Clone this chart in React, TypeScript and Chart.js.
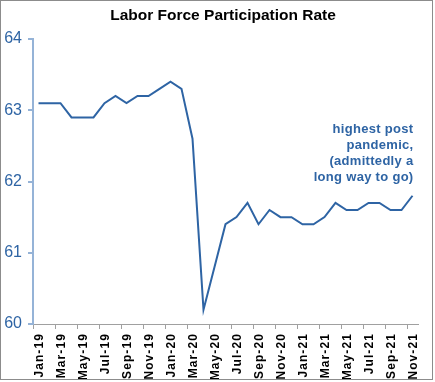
import React, { useEffect, useRef } from "react";
import { Chart, registerables } from "chart.js";

Chart.register(...registerables);

const months = [
  "Jan-19","Feb-19","Mar-19","Apr-19","May-19","Jun-19","Jul-19","Aug-19","Sep-19","Oct-19","Nov-19","Dec-19",
  "Jan-20","Feb-20","Mar-20","Apr-20","May-20","Jun-20","Jul-20","Aug-20","Sep-20","Oct-20","Nov-20","Dec-20",
  "Jan-21","Feb-21","Mar-21","Apr-21","May-21","Jun-21","Jul-21","Aug-21","Sep-21","Oct-21","Nov-21",
];
const participation = [
  63.1, 63.1, 63.1, 62.9, 62.9, 62.9, 63.1, 63.2, 63.1, 63.2, 63.2, 63.3,
  63.4, 63.3, 62.6, 60.2, 60.8, 61.4, 61.5, 61.7, 61.4, 61.6, 61.5, 61.5,
  61.4, 61.4, 61.5, 61.7, 61.6, 61.6, 61.7, 61.7, 61.6, 61.6, 61.8,
];
const annotationLines = ["highest post", "pandemic,", "(admittedly a", "long way to go)"];
const titleText = "Labor Force Participation Rate";

const BLUE = "#2E64A4";
const FONT = "'Liberation Sans', Arial, sans-serif";

const extras = {
  id: "extras",
  afterDraw(chart: any) {
    const ctx = chart.ctx;
    const xs = chart.scales.x;
    const ys = chart.scales.y;
    ctx.save();
    // title
    ctx.fillStyle = "#000";
    ctx.font = `bold 15.5px ${FONT}`;
    ctx.textAlign = "center";
    ctx.textBaseline = "middle";
    ctx.fillText(titleText, 223, 16);
    // x labels (every second month), rotated, letter-spaced
    ctx.font = `bold 12px ${FONT}`;
    (ctx as any).letterSpacing = "1.1px";
    ctx.textAlign = "right";
    ctx.textBaseline = "middle";
    months.forEach((m, i) => {
      if (i % 2 !== 0) return;
      const x = xs.getPixelForValue(i) + 1;
      ctx.save();
      ctx.translate(x, xs.top + 9);
      ctx.rotate(-Math.PI / 2);
      ctx.fillText(m, 0, 0);
      ctx.restore();
    });
    // annotation
    (ctx as any).letterSpacing = "0.3px";
    ctx.fillStyle = BLUE;
    ctx.font = `bold 13px ${FONT}`;
    ctx.textAlign = "right";
    ctx.textBaseline = "middle";
    const ax = xs.getPixelForValue(participation.length - 1) + 1;
    const ay = ys.getPixelForValue(62.73);
    annotationLines.forEach((t, i) => ctx.fillText(t, ax, ay + i * 16));
    // outer border
    (ctx as any).letterSpacing = "0px";
    ctx.strokeStyle = "#8c8c8c";
    ctx.lineWidth = 1;
    ctx.strokeRect(0.5, 0.5, 432, 379);
    ctx.restore();
  },
};

export default function App() {
  const ref = useRef<HTMLCanvasElement>(null);
  useEffect(() => {
    document.body.style.margin = "0";
    const chart = new Chart(ref.current!, {
      type: "line",
      data: {
        labels: months,
        datasets: [
          {
            data: participation,
            borderColor: BLUE,
            borderWidth: 2,
            pointRadius: 0,
            tension: 0,
            fill: false,
          },
        ],
      },
      options: {
        animation: false,
        responsive: false,
        maintainAspectRatio: false,
        layout: { padding: { left: 0, right: 17, top: 39, bottom: 2 } },
        plugins: {
          legend: { display: false },
          tooltip: { enabled: false },
          title: { display: false },
        },
        scales: {
          x: {
            offset: true,
            grid: {
              display: true,
              drawOnChartArea: false,
              drawTicks: true,
              tickLength: 5,
              offset: true,
              color: (c: any) => (c.index % 2 === 0 ? "#a0a0a0" : "rgba(0,0,0,0)"),
            },
            border: { display: true, color: "#a0a0a0", width: 1 },
            ticks: {
              display: false,
              autoSkip: false,
            },
            afterFit: (s: any) => {
              s.height = 56;
            },
          },
          y: {
            min: 60,
            max: 64,
            grid: {
              display: true,
              drawOnChartArea: false,
              drawTicks: true,
              tickLength: 5,
              color: "#95B3D7",
              lineWidth: 2,
            },
            border: { display: true, color: "#95B3D7", width: 2 },
            ticks: {
              stepSize: 1,
              padding: 6,
              color: BLUE,
              font: { size: 16, family: FONT },
            },
            afterFit: (s: any) => {
              s.width = 33;
            },
          },
        },
      },
      plugins: [extras],
    });
    return () => chart.destroy();
  }, []);
  return (
    <div style={{ position: "relative", width: 435, height: 382 }}>
      <canvas ref={ref} width={435} height={382} style={{ width: 435, height: 382, display: "block" }} />
    </div>
  );
}
